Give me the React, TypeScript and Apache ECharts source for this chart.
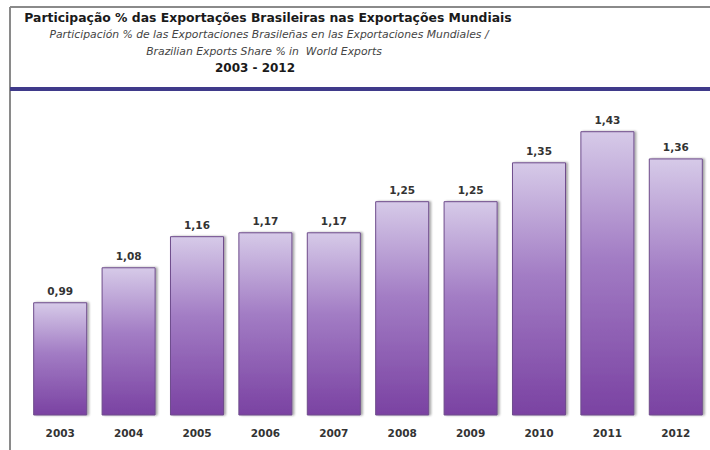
import React, { useEffect, useRef } from "react";
import * as echarts from "echarts";

const years = ["2003", "2004", "2005", "2006", "2007", "2008", "2009", "2010", "2011", "2012"];
const shares = [0.99, 1.08, 1.16, 1.17, 1.17, 1.25, 1.25, 1.35, 1.43, 1.36];

const titleMain = "Participação % das Exportações Brasileiras nas Exportações Mundiais";
const subtitleEs = "Participación % de las Exportaciones Brasileñas en las Exportaciones Mundiales /";
const subtitleEn = "Brazilian Exports Share % in  World Exports";
const periodText = "2003 - 2012";

export default function App() {
  const ref = useRef<HTMLDivElement>(null);
  useEffect(() => {
    if (!ref.current) return;
    const chart = echarts.init(ref.current, undefined, { renderer: "svg" });
    const font = "DejaVu Sans, Verdana, sans-serif";
    chart.setOption({
      animation: false,
      backgroundColor: "#ffffff",
      title: [
        {
          text: titleMain,
          left: 268,
          top: 11,
          padding: 0,
          textAlign: "center",
          textStyle: { fontFamily: font, fontSize: 12.4, fontWeight: "bold", color: "#1a1a1a" },
        },
        {
          text: subtitleEs,
          left: 269,
          top: 29,
          padding: 0,
          textAlign: "center",
          textStyle: { fontFamily: font, fontSize: 10.8, fontStyle: "italic", fontWeight: "normal", color: "#444" },
        },
        {
          text: subtitleEn,
          left: 264,
          top: 46,
          padding: 0,
          textAlign: "center",
          textStyle: { fontFamily: font, fontSize: 10.8, fontStyle: "italic", fontWeight: "normal", color: "#444" },
        },
        {
          text: periodText,
          left: 255,
          top: 62,
          padding: 0,
          textAlign: "center",
          textStyle: { fontFamily: font, fontSize: 12, fontWeight: "bold", color: "#1a1a1a" },
        },
      ],
      graphic: [
        { type: "line", shape: { x1: 10, y1: 7, x2: 710, y2: 7 }, style: { stroke: "#8a8a8a", lineWidth: 2 } },
        { type: "line", shape: { x1: 10, y1: 7, x2: 10, y2: 450 }, style: { stroke: "#8a8a8a", lineWidth: 2 } },
        { type: "rect", shape: { x: 10, y: 87, width: 700, height: 4 }, style: { fill: "#3f3a8a" } },
      ],
      grid: { left: 26, width: 686, top: 104, bottom: 35 },
      xAxis: {
        type: "category",
        data: years,
        axisLine: { show: false },
        axisTick: { show: false },
        axisLabel: { fontFamily: font, fontSize: 10.5, fontWeight: "bold", color: "#333", margin: 12 },
      },
      yAxis: { type: "value", min: 0.7, max: 1.5, show: false, splitLine: { show: false } },
      series: [
        {
          type: "bar",
          data: shares,
          barWidth: "79%",
          itemStyle: {
            color: new echarts.graphic.LinearGradient(0, 0, 0, 1, [
              { offset: 0, color: "#d6cae8" },
              { offset: 0.45, color: "#a27cc4" },
              { offset: 1, color: "#7a42a2" },
            ]),
            borderColor: "#6e4c8c",
            borderWidth: 1,
            shadowColor: "rgba(0,0,0,0.35)",
            shadowBlur: 2,
            shadowOffsetX: 2,
            shadowOffsetY: 0,
          },
          label: {
            show: true,
            position: "top",
            distance: 6,
            fontFamily: font,
            fontSize: 10.5,
            fontWeight: "bold",
            color: "#333",
            formatter: (p: any) => p.value.toFixed(2).replace(".", ","),
          },
        },
      ],
    });
    return () => chart.dispose();
  }, []);
  return <div ref={ref} style={{ position: "fixed", left: 0, top: 0, width: 710, height: 450 }} />;
}
